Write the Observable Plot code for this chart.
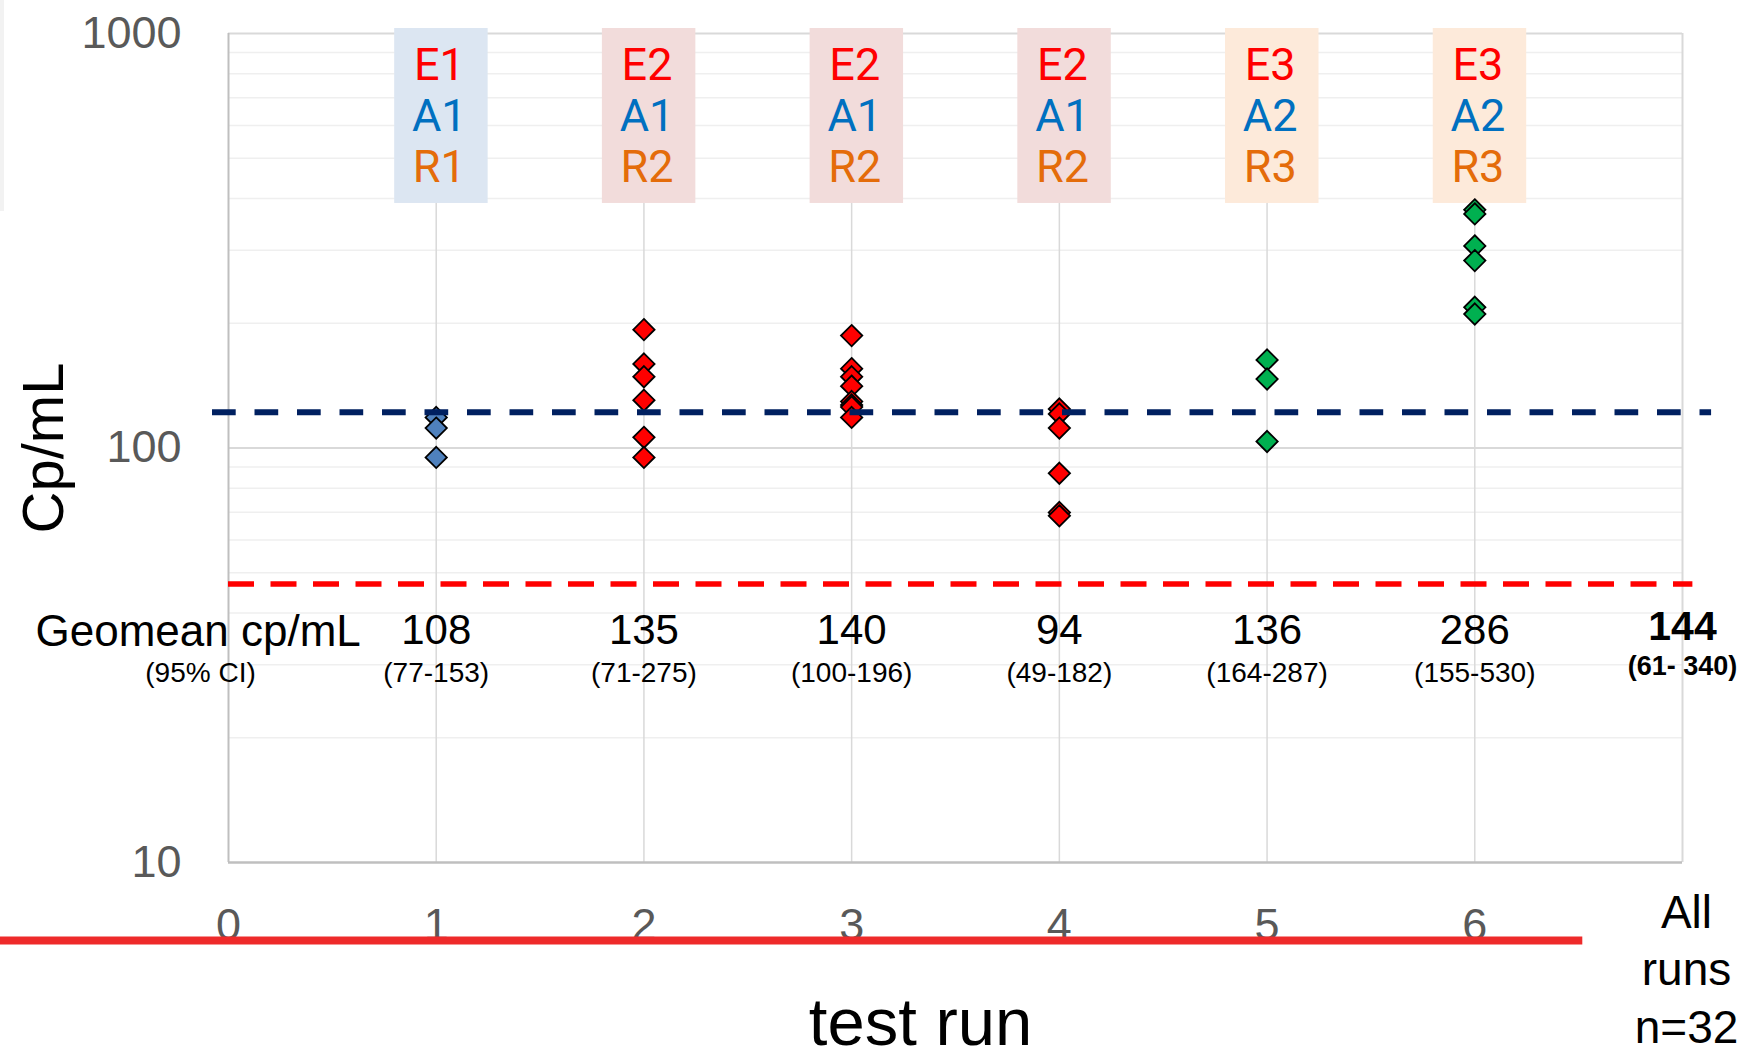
<!DOCTYPE html>
<html>
<head>
<meta charset="utf-8">
<script src="https://cdn.jsdelivr.net/npm/d3@7"></script>
<script src="https://cdn.jsdelivr.net/npm/@observablehq/plot@0.6"></script>
<style>
  body { margin: 0; background: #fff; }
  #wrap { position: relative; width: 1743px; height: 1059px; overflow: hidden; background: #fff; }
  #strip { position: absolute; left: 0; top: 0; width: 4px; height: 211px; background: #f2f2f2; }
  #wrap svg { position: absolute; left: 0; top: 0; }
</style>
</head>
<body>
<div id="wrap"><div id="strip"></div></div>
<script>
// ---- data ----
const runs = [1, 2, 3, 4, 5, 6];
const run1Values = [118.5, 111.7, 94.9];
const run2Values = [193, 159.5, 148.6, 130.4, 106.1, 94.9];
const run3Values = [186.7, 155.4, 148.6, 141, 129.5, 127, 125.5, 118.5];
const run4Values = [124.2, 120.8, 111.7, 86.9, 69.9, 68.6];
const run5Values = [163.1, 146.7, 103.7];
const run6Values = [375.4, 367.1, 307.3, 283.2, 218.5, 210.5];

const extraction = ["E1", "E2", "E2", "E2", "E3", "E3"];
const amplification = ["A1", "A1", "A1", "A1", "A2", "A2"];
const reagent = ["R1", "R2", "R2", "R2", "R3", "R3"];
const pointColors = ["#4F81BD", "#FF0000", "#FF0000", "#FF0000", "#00B050", "#00B050"];
const boxColors = ["#DCE6F2", "#F2DCDB", "#F2DCDB", "#F2DCDB", "#FDEADA", "#FDEADA"];

const geomeans = ["108", "135", "140", "94", "136", "286"];
const geomeanCI = ["(77-153)", "(71-275)", "(100-196)", "(49-182)", "(164-287)", "(155-530)"];
const allRunsGeomean = "144";
const allRunsCI = "(61- 340)";
const allRunsLabel = "All\nruns\nn=32";
const geomeanLabel = "Geomean cp/mL";
const ciLabel = "(95% CI)";

const xTicks = [0, 1, 2, 3, 4, 5, 6];
const yTicks = [10, 100, 1000];
const yMinorGrid = [20, 30, 40, 50, 60, 70, 80, 90, 200, 300, 400, 500, 600, 700, 800, 900];
const lod95 = 122;   // navy dashed reference
const lodLow = 47;   // red dashed reference

// ---- derived tables ----
const runValues = [run1Values, run2Values, run3Values, run4Values, run5Values, run6Values];
const points = runs.flatMap((r, i) => runValues[i].map(v => ({run: r, value: v, color: pointColors[i]})));
const cols = runs.map((r, i) => ({
  run: r, e: extraction[i], a: amplification[i], rg: reagent[i],
  fill: boxColors[i], gm: geomeans[i], ci: geomeanCI[i]
}));

const sans = "'Liberation Sans', Arial, sans-serif";

const chart = Plot.plot({
  width: 1743,
  height: 1059,
  marginLeft: 228,
  marginRight: 61,
  marginTop: 33,
  marginBottom: 197,
  style: {background: "transparent", fontFamily: sans, overflow: "visible"},
  x: {domain: [0, 7], axis: null, label: null},
  y: {type: "log", domain: [10, 1000], axis: null, label: null},
  color: {type: "identity"},
  marks: [
    // grid and frame
    Plot.ruleY(yMinorGrid, {stroke: "#EFEFEF", strokeWidth: 1.5}),
    Plot.ruleY([100, 1000], {stroke: "#D9D9D9", strokeWidth: 2}),
    Plot.ruleX(runs, {stroke: "#D9D9D9", strokeWidth: 1.5}),
    Plot.ruleX([7], {stroke: "#D9D9D9", strokeWidth: 2}),
    Plot.ruleX([0], {stroke: "#BFBFBF", strokeWidth: 2}),
    Plot.ruleY([10], {stroke: "#BFBFBF", strokeWidth: 2.5}),

    // header boxes
    Plot.rect(cols, {x1: d => d.run - 0.2, x2: d => d.run + 0.25, y1: 389, y2: 1000, insetTop: -5, fill: "fill"}),

    // geomean row
    Plot.text([geomeanLabel], {frameAnchor: "top-left", textAnchor: "start", lineAnchor: "bottom", dx: -193, dy: 612, fontSize: 44, fill: "#000"}),
    Plot.text([ciLabel], {frameAnchor: "top-left", textAnchor: "middle", lineAnchor: "bottom", dx: -28, dy: 648, fontSize: 28, fill: "#000"}),
    Plot.text(cols, {x: "run", text: "gm", frameAnchor: "top", lineAnchor: "bottom", dy: 610, fontSize: 42, fill: "#000"}),
    Plot.text(cols, {x: "run", text: "ci", frameAnchor: "top", lineAnchor: "bottom", dy: 648, fontSize: 28, fill: "#000"}),
    Plot.text([allRunsGeomean], {x: 7, frameAnchor: "top", lineAnchor: "bottom", dy: 606, fontSize: 41, fontWeight: "bold", fill: "#000"}),
    Plot.text([allRunsCI], {x: 7, frameAnchor: "top", lineAnchor: "bottom", dy: 641, fontSize: 27, fontWeight: "bold", fill: "#000"}),

    // low reference line
    Plot.ruleY([lodLow], {x1: 0, x2: 7.05, stroke: "#FF0000", strokeWidth: 5.5, strokeDasharray: "26,16.5"}),

    // data points
    Plot.dot(points, {x: "run", y: "value", symbol: "diamond2", r: 9.6, fill: "color", stroke: "#000", strokeWidth: 1.8}),

    // 95% reference line
    Plot.ruleY([lod95], {x1: -0.077, x2: 7.14, stroke: "#002060", strokeWidth: 6, strokeDasharray: "23.7,18.8"}),

    // box labels
    Plot.text(cols, {x: d => d.run + 0.015, text: "e", frameAnchor: "top", dy: 15, fontSize: 45, fontFamily: "Roboto", fill: "#FF0000"}),
    Plot.text(cols, {x: d => d.run + 0.015, text: "a", frameAnchor: "top", dy: 66, fontSize: 45, fontFamily: "Roboto", fill: "#0070C0"}),
    Plot.text(cols, {x: d => d.run + 0.015, text: "rg", frameAnchor: "top", dy: 117, fontSize: 45, fontFamily: "Roboto", fill: "#E46C0A"}),

    // axes
    Plot.axisX({ticks: xTicks, tickSize: 0, tickPadding: 46, fontSize: 45, color: "#595959", label: null, tickFormat: d => String(d)}),
    Plot.axisY({ticks: yTicks, tickSize: 0, tickPadding: 47, fontSize: 45, color: "#595959", label: null, tickFormat: d => String(d)}),

    // axis titles and All runs label
    Plot.text([allRunsLabel], {x: 7, frameAnchor: "bottom", lineAnchor: "bottom", lineHeight: 1.25, dx: 4, dy: 180, fontSize: 46, fill: "#000"}),
    Plot.text(["test run"], {frameAnchor: "bottom", textAnchor: "middle", lineAnchor: "bottom", dx: -35, dy: 182, fontSize: 67, fill: "#000"}),
    Plot.text(["Cp/mL"], {frameAnchor: "left", textAnchor: "middle", rotate: -90, lineAnchor: "bottom", dx: -166, fontSize: 58, fill: "#000"}),

    // red bar across the x tick labels
    Plot.ruleY([6.48], {x1: -1.1, x2: 6.52, stroke: "#EE2A2A", strokeWidth: 8})
  ]
});

document.getElementById("wrap").appendChild(chart);
</script>
</body>
</html>
